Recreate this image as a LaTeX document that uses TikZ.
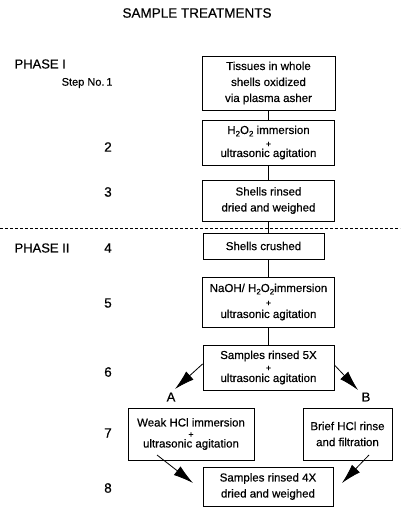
\documentclass[tikz,border=0pt]{standalone}
\usepackage{fontspec}
\setmainfont{Liberation Sans}[FakeBold=0.5]
\usetikzlibrary{arrows.meta}
\newcommand{\sub}[1]{\raisebox{-2.5pt}{\fontsize{8}{8}\selectfont #1}}
\newcommand{\plus}{{\fontsize{9}{9}\selectfont +}}
\begin{document}
\begin{tikzpicture}[x=1pt,y=-1pt,
  box/.style={draw, line width=0.9pt, inner sep=0pt, align=center,
    font=\fontsize{11.5}{16}\selectfont},
  stepno/.style={font=\fontsize{13.5}{13.5}\selectfont},
  phase/.style={anchor=west, font=\fontsize{13}{13}\selectfont},
  link/.style={line width=0.9pt},
  branch/.style={line width=0.8pt, -{Latex[length=20pt,width=11pt]}}]
\useasboundingbox (0,0) rectangle (400,508);

\node[font=\fontsize{13.5}{14}\selectfont] (title) at (197,13) {SAMPLE TREATMENTS};

% phase labels and step numbers
\node[phase] (ph1) at (11,64) {PHASE I};
\node[anchor=east, font=\fontsize{11}{11}\selectfont] (s1) at (116,83) {Step No.\,1};
\node[phase] (ph2) at (11,248) {PHASE II};
\node[stepno] (s2) at (108,147) {2};
\node[stepno] (s3) at (108,192) {3};
\node[stepno] (s4) at (108,248) {4};
\node[stepno] (s5) at (108,303) {5};
\node[stepno] (s6) at (108,372) {6};
\node[stepno] (s7) at (108,433) {7};
\node[stepno] (s8) at (108,488) {8};

% boundary between the two phases
\draw[line width=0.8pt, dash pattern=on 3pt off 2pt] (0,228) coordinate (d0) -- (400,228) coordinate (d1);

% treatment boxes
\node[box, minimum width=133pt, minimum height=54pt] (b1) at (268.5,83)
  {Tissues in whole\\shells oxidized\\via plasma asher};
\node[box, minimum width=132pt, minimum height=45pt] (b2) at (268.5,142.5)
  {H\sub{2}O\sub{2} immersion\\[-3pt]\plus\\[-6pt]ultrasonic agitation};
\node[box, minimum width=132pt, minimum height=41pt] (b3) at (268.5,200.5)
  {Shells rinsed\\dried and weighed};
\node[box, minimum width=121pt, minimum height=26pt] (b4) at (263.5,246)
  {Shells crushed};
\node[box, minimum width=132pt, minimum height=50pt] (b5) at (268.5,302)
  {NaOH/ H\sub{2}O\sub{2}immersion\\[-2pt]\plus\\[-4pt]ultrasonic agitation};
\node[box, minimum width=131pt, minimum height=45pt] (b6) at (268.5,367.5)
  {Samples rinsed 5X\\[-4pt]\plus\\[-5pt]ultrasonic agitation};
\node[box, minimum width=126pt, minimum height=52pt] (b7a) at (191,434)
  {Weak HCl immersion\\[-5pt]\plus\\[-6pt]ultrasonic agitation};
\node[box, minimum width=89pt, minimum height=52pt] (b7b) at (347.5,434)
  {Brief HCl rinse\\and filtration};
\node[box, minimum width=130pt, minimum height=39pt] (b8) at (268,486.5)
  {Samples rinsed 4X\\dried and weighed};

% branch labels
\node[font=\fontsize{13}{13}\selectfont] (la) at (171,397) {A};
\node[font=\fontsize{13}{13}\selectfont] (lb) at (366,397) {B};

% vertical links
\draw[link] (b1.south) -- (b2.north);
\draw[link] (b2.south) -- (b3.north);
\draw[link] (b3.south) -- (b3.south |- b4.north);
\draw[link] (b3.south |- b4.south) -- (b5.north);
\draw[link] (b5.south) -- (b6.north);

% branching arrows
\coordinate (ta) at (175,389);
\coordinate (tb) at (358,390);
\coordinate (ua) at (193,483);
\coordinate (ub) at (342,483);
\draw[branch] (b6.west |- 0,364) -- (ta);
\draw[branch] (b6.east |- 0,365) -- (tb);
\draw[branch] (157,455) coordinate (fa) -- (ua);
\draw[branch] (369,455) coordinate (fb) -- (ub);
\end{tikzpicture}
\end{document}
